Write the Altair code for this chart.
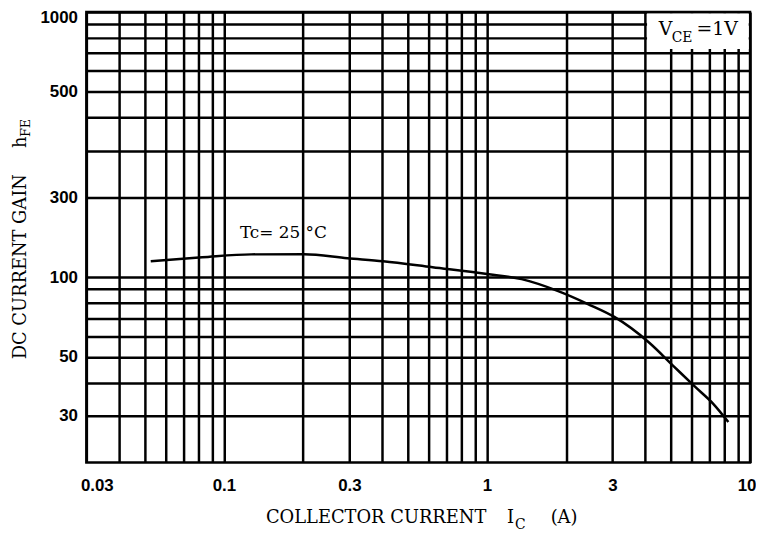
import altair as alt
import pandas as pd

# ---- data ----
ic = [0.0527, 0.0827, 0.127, 0.202, 0.295, 0.403, 0.621, 1.017, 1.354, 1.865,
      2.42, 3.05, 4.14, 5.14, 6.16, 7.26, 8.27]
hfe = [114.8, 118.8, 121.9, 122.0, 117.8, 114.8, 109.0, 102.6, 98.3, 88.6,
       79.2, 70.8, 56.6, 46.0, 38.7, 33.2, 28.4]

x_grid = [0.04, 0.05, 0.06, 0.07, 0.08, 0.09,
          0.1, 0.2, 0.3, 0.4, 0.5, 0.6, 0.7, 0.8, 0.9,
          1, 2, 3, 4, 5, 6, 7, 8, 9]
x_label_values = [0.03, 0.1, 0.3, 1, 3, 10]
x_label_texts = ["0.03", "0.1", "0.3", "1", "3", "10"]

y_grid = [30, 40, 50, 60, 70, 80, 90,
          100, 200, 300, 400, 500, 600, 700, 800, 900]
# the reference prints "300" on the 200 grid line
y_label_values = [30, 50, 100, 200, 500, 1000]
y_label_texts = ["30", "50", "100", "300", "500", "1000"]

x_domain = [0.03, 10]
y_domain = [20, 1000]

curve_label = "Tc= 25 °C"
curve_label_pos = (0.115, 140)
vce_pos = (4.50, 820)
vce_box = (4.06, 9.88, 725, 988)


def label_expr(values, texts):
    expr = "''"
    for v, t in reversed(list(zip(values, texts))):
        expr = f"datum.value == {v} ? '{t}' : ({expr})"
    return expr


df = pd.DataFrame({"ic": ic, "hfe": hfe})

xs = alt.Scale(type="log", domain=x_domain, nice=False)
ys = alt.Scale(type="log", domain=y_domain, nice=False)

x_axis = alt.Axis(
    values=sorted(set(x_grid + x_label_values)),
    labelExpr=label_expr(x_label_values, x_label_texts),
    grid=True, gridColor="black", gridWidth=2.5, gridOpacity=1,
    ticks=False, tickSize=0, domain=False,
    labelFont="Liberation Sans", labelFontWeight="bold", labelFontSize=17,
    labelColor="black", labelPadding=15, labelOverlap=False,
    labelFlush=True, labelFlushOffset=6, title=None,
)
y_axis = alt.Axis(
    values=sorted(set(y_grid + y_label_values)),
    labelExpr=label_expr(y_label_values, y_label_texts),
    grid=True, gridColor="black", gridWidth=2.5, gridOpacity=1,
    ticks=False, tickSize=0, domain=False,
    labelFont="Liberation Sans", labelFontWeight="bold", labelFontSize=17,
    labelColor="black", labelPadding=9, labelOverlap=False,
    labelFlush=True, labelFlushOffset=2, title=None,
)

curve = alt.Chart(df).mark_line(color="black", strokeWidth=2.5, interpolate="monotone").encode(
    x=alt.X("ic:Q", scale=xs, axis=x_axis),
    y=alt.Y("hfe:Q", scale=ys, axis=y_axis),
)

box_df = pd.DataFrame({"x": [vce_box[0]], "x2": [vce_box[1]], "y": [vce_box[2]], "y2": [vce_box[3]]})
box = alt.Chart(box_df).mark_rect(color="white").encode(
    x=alt.X("x:Q", scale=xs), x2="x2", y=alt.Y("y:Q", scale=ys), y2="y2"
)

serif = "DejaVu Serif"


def data_text(text, pos, size, dx=0, dy=0):
    d = pd.DataFrame({"x": [pos[0]], "y": [pos[1]], "t": [text]})
    return alt.Chart(d).mark_text(
        font=serif, fontSize=size, align="left", baseline="alphabetic",
        color="black", dx=dx, dy=dy
    ).encode(x=alt.X("x:Q", scale=xs), y=alt.Y("y:Q", scale=ys), text="t:N")


def px_text(text, x, y, size, angle=0):
    return alt.Chart(alt.Data(values=[{}])).mark_text(
        text=text, font=serif, fontSize=size, align="left", baseline="alphabetic",
        color="black", angle=angle
    ).encode(x=alt.value(x), y=alt.value(y))


tc = data_text(curve_label, curve_label_pos, 17)
v1 = data_text("V", vce_pos, 19)
v2 = data_text("CE", vce_pos, 14, dx=13, dy=7)
v3 = data_text("=1V", vce_pos, 19, dx=38)

xt1 = px_text("COLLECTOR CURRENT", 181, 515, 18)
xt2 = px_text("I", 424, 515, 18)
xt3 = px_text("C", 432, 521, 14)
xt4 = px_text("(A)", 468, 515, 18)

yt1 = px_text("DC CURRENT GAIN", -61, 350, 18, angle=270)
yt2 = px_text("h", -61, 137, 18, angle=270)
yt3 = px_text("FE", -57, 126, 13, angle=270)

chart = alt.layer(
    curve, box, tc, v1, v2, v3, xt1, xt2, xt3, xt4, yt1, yt2, yt3
).properties(
    width=669, height=454,
    autosize=alt.AutoSizeParams(type="none"),
    padding={"left": 79, "top": 2, "right": 6, "bottom": 70},
).configure_view(stroke="black", strokeWidth=2.5)

chart.save("out.html", embed_options={"renderer": "svg", "actions": False})
